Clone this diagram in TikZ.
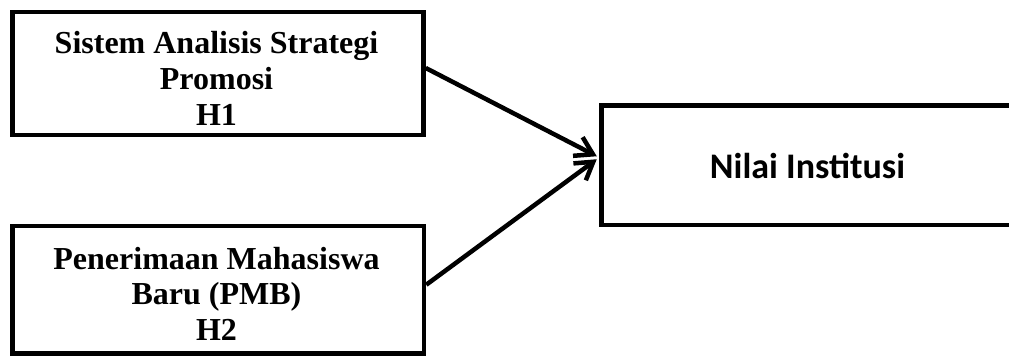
\documentclass[tikz,border=0pt]{standalone}
\usepackage{fontspec}
\setmainfont{Liberation Serif}
\newfontfamily\carlito{Carlito}
\usetikzlibrary{arrows.meta}
\begin{document}
\begin{tikzpicture}[x=1pt,y=-1pt,
  boxst/.style={draw, line width=4.5pt, rectangle, inner sep=0pt},
  serifst/.style={align=center, inner sep=0pt, font=\fontsize{32}{36}\selectfont\bfseries},
  arr/.style={line width=4.5pt, -{Straight Barb[length=17pt,width=21pt]}}]
\useasboundingbox (0,0) rectangle (1009,356);
\clip (0,0) rectangle (1009,356);
\node[boxst, minimum width=411pt, minimum height=123pt] (h1) at (218,73.5) {};
\node[boxst, minimum width=411.5pt, minimum height=127.5pt] (h2) at (218.25,289.75) {};
\node[boxst, minimum width=411.5pt, minimum height=119.5pt] (nilai) at (807.25,165.25) {};
\node[serifst] (t1) at (216.5,78.7) {Sistem Analisis Strategi\\Promosi\\H1};
\node[serifst, font=\fontsize{32}{35.5}\selectfont\bfseries] (t2) at (216.5,293.7) {Penerimaan Mahasiswa\\Baru (PMB)\\H2};
\node[anchor=base, inner sep=0pt, font=\carlito\fontsize{36}{40}\selectfont\bfseries] (t3) at (807.5,178) {Nilai Institusi};
\draw[arr] ([yshift=5.5pt]h1.east) -- ([xshift=-2.5pt,yshift=9pt]nilai.west);
\draw[arr] ([yshift=5pt]h2.east) -- ([xshift=-2.5pt,yshift=6pt]nilai.west);
\end{tikzpicture}
\end{document}
